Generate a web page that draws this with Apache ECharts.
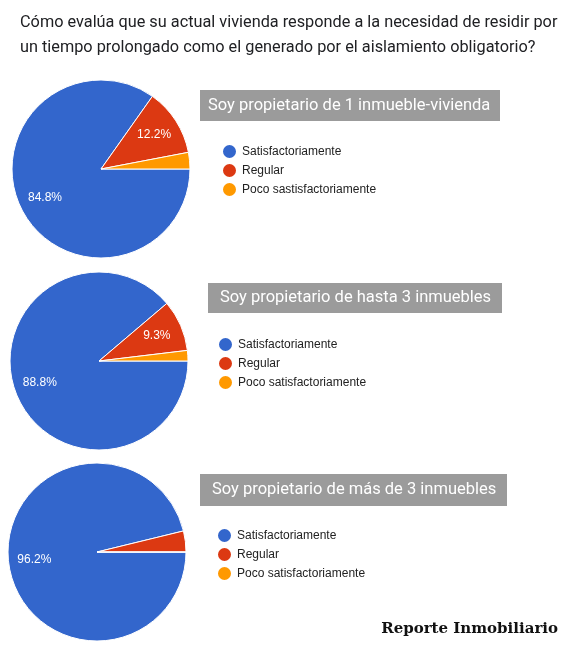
<!DOCTYPE html>
<html>
<head>
<meta charset="utf-8">
<script src="https://cdn.jsdelivr.net/npm/echarts@6/dist/echarts.min.js"></script>
<style>
html,body{margin:0;padding:0;background:#fff;}
#chart{width:574px;height:655px;}
</style>
</head>
<body>
<div id="chart"></div>
<script>
// ---- data ----
const mainTitle = 'Cómo evalúa que su actual vivienda responde a la necesidad de residir por\nun tiempo prolongado como el generado por el aislamiento obligatorio?';
const groupTitles = [
  'Soy propietario de 1 inmueble-vivienda',
  'Soy propietario de hasta 3 inmuebles',
  'Soy propietario de más de 3 inmuebles'
];
const categories1 = ['Satisfactoriamente', 'Regular', 'Poco sastisfactoriamente'];
const categories2 = ['Satisfactoriamente', 'Regular', 'Poco satisfactoriamente'];
const categories3 = ['Satisfactoriamente', 'Regular', 'Poco satisfactoriamente'];
const values1 = [84.8, 12.2, 3.0];
const values2 = [88.8, 9.3, 1.9];
const values3 = [96.2, 3.8, 0];
const sliceColors = ['#3366cc', '#dc3912', '#ff9900'];
const watermark = 'Reporte Inmobiliario';

// ---- layout ----
const groups = [
  {cats: categories1, vals: values1, center: [101, 169], legend: {left: 221, top: 143},
   box: {x: 200, y: 90, w: 300, h: 31, tx: 208}},
  {cats: categories2, vals: values2, center: [99, 361], legend: {left: 217, top: 336},
   box: {x: 208, y: 283, w: 294, h: 30, tx: 220}},
  {cats: categories3, vals: values3, center: [97, 552], legend: {left: 216, top: 527},
   box: {x: 200, y: 474, w: 307, h: 32, tx: 212}}
];
const R = 89;

const series = [];
const legends = [];
const graphics = [];

groups.forEach(function (g, gi) {
  const data = g.cats.map(function (c, i) {
    return {name: c, value: g.vals[i], itemStyle: {color: sliceColors[i]}};
  });
  series.push({
    type: 'pie',
    center: g.center,
    radius: R,
    startAngle: 0,
    clockwise: true,
    avoidLabelOverlap: false,
    data: data,
    label: {show: false},
    labelLine: {show: false},
    itemStyle: {borderColor: '#ffffff', borderWidth: 1},
    emphasis: {disabled: true},
    animation: false
  });
  legends.push({
    orient: 'vertical',
    left: g.legend.left,
    top: g.legend.top,
    padding: 0,
    itemWidth: 15,
    itemHeight: 15,
    itemGap: 2,
    icon: 'circle',
    selectedMode: false,
    data: g.cats,
    textStyle: {fontFamily: 'Liberation Sans, Arial', fontSize: 12, color: '#222222'}
  });
  graphics.push({
    type: 'rect',
    shape: {x: g.box.x, y: g.box.y, width: g.box.w, height: g.box.h},
    style: {fill: '#9b9b9b'},
    silent: true
  });
  graphics.push({
    type: 'text',
    x: g.box.tx,
    y: g.box.y + g.box.h / 2,
    style: {
      text: groupTitles[gi],
      fill: '#ffffff',
      font: '16.5px Roboto, "Open Sans", sans-serif',
      verticalAlign: 'middle'
    },
    silent: true
  });
});

// label overlay series (labels at ~2/3 radius like the source)
groups.forEach(function (g) {
  series.push({
    type: 'pie',
    center: g.center,
    radius: [0, R * 1.35],
    startAngle: 0,
    clockwise: true,
    silent: true,
    avoidLabelOverlap: false,
    data: g.cats.map(function (c, i) { return {name: c, value: g.vals[i]}; }),
    itemStyle: {color: 'rgba(0,0,0,0)', borderWidth: 0},
    label: {
      show: true,
      position: 'inner',
      color: '#ffffff',
      fontFamily: 'Liberation Sans, Arial',
      fontSize: 12,
      formatter: function (p) { return p.value > 5 ? p.value.toFixed(1) + '%' : ''; }
    },
    labelLine: {show: false},
    emphasis: {disabled: true},
    animation: false
  });
});

graphics.push({
  type: 'text',
  right: 16,
  top: 622,
  style: {
    text: watermark,
    fill: '#111111',
    font: 'bold 15px "DejaVu Serif", serif'
  },
  silent: true
});

const chart = echarts.init(document.getElementById('chart'), null, {renderer: 'canvas'});
chart.setOption({
  animation: false,
  backgroundColor: '#ffffff',
  title: {
    text: mainTitle,
    left: 20,
    top: 10,
    padding: 0,
    textStyle: {fontFamily: 'Roboto, "Open Sans", sans-serif', fontSize: 16.3, fontWeight: 'normal', color: '#202124', lineHeight: 25}
  },
  legend: legends,
  series: series,
  graphic: graphics
});
</script>
</body>
</html>
